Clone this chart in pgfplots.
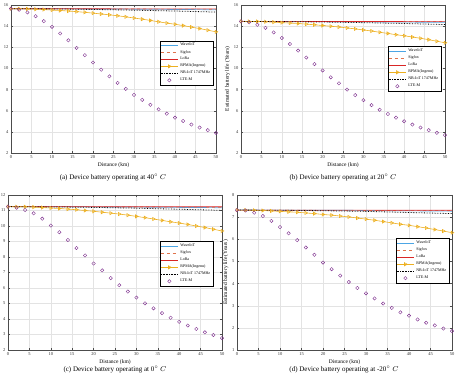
\documentclass[border=0pt]{standalone}
\usepackage{fontspec}
\setmainfont{Liberation Serif}
\usepackage{pgfplots}
\pgfplotsset{compat=1.18}
\definecolor{cwave}{rgb}{0.30,0.65,0.90}
\definecolor{csig}{rgb}{0.88,0.45,0.30}
\definecolor{clora}{rgb}{0.85,0.15,0.15}
\definecolor{crpma}{rgb}{0.93,0.69,0.13}
\definecolor{clte}{rgb}{0.494,0.184,0.556}
\pgfplotsset{
  myax/.style={
    scale only axis, xmin=0, xmax=50, xtick={0,5,...,50},
    grid=major, grid style={gray!22, line width=0.3pt},
    tick align=inside, major tick length=2pt,
    axis line style={gray!60!black, line width=0.4pt},
    tick style={gray!60!black, line width=0.3pt},
    tick label style={font=\fontsize{4.5}{5}\selectfont, text=black!80},
    label style={font=\fontsize{5.5}{6}\selectfont},
    xlabel={Distance (km)}, ylabel={Estimated battery life (Years)},
    xlabel style={yshift=3pt}, ylabel style={yshift=-3pt},
    xticklabel style={yshift=1pt}, yticklabel style={xshift=1pt},
    /pgf/number format/assume math mode=true,
    legend style={font=\fontsize{4}{4.5}\selectfont, draw=black, line width=0.3pt,
      inner sep=0.6pt, row sep=-1.2pt, legend cell align=left},
    legend image post style={},
    every axis plot/.append style={line width=0.6pt},
  },
  wv/.style={cwave, line width=0.7pt},
  sg/.style={csig, dashed, line width=0.6pt},
  lr/.style={clora, line width=0.6pt},
  rp/.style={crpma, line width=0.6pt, mark=triangle, mark size=1.8pt, mark options={rotate=-90, solid}},
  nb/.style={black, densely dotted, line width=0.8pt},
  lt/.style={clte, only marks, mark=o, mark size=1.7pt, line width=0.4pt},
}
\begin{document}
\begin{tikzpicture}
\useasboundingbox (0pt,0pt) rectangle (455pt,-379pt);
% (a)
\begin{axis}[myax, at={(11pt,-5pt)}, anchor=north west, width=205pt, height=148pt,
  ymin=2, ymax=16, ytick={2,4,...,16},
  legend style={at={(0.985,0.76)}, anchor=north east}]
\addplot[wv] coordinates {(0,15.65)(25,15.62)(50,15.55)};
\addplot[sg] coordinates {(0,15.65)(50,15.60)};
\addplot[lr] coordinates {(0,15.65)(50,15.63)};
\addplot[rp] coordinates {(0,15.65)(2,15.64)(4,15.63)(6,15.60)(8,15.57)(10,15.52)(12,15.48)(14,15.43)(16,15.37)(18,15.31)(20,15.23)(22,15.15)(24,15.07)(26,14.98)(28,14.88)(30,14.77)(32,14.66)(34,14.54)(36,14.41)(38,14.29)(40,14.18)(42,14.05)(44,13.91)(46,13.77)(48,13.62)(50,13.46)};
\addplot[nb] coordinates {(0,15.65)(10,15.63)(20,15.58)(30,15.51)(40,15.43)(50,15.33)};
\addplot[lt] coordinates {(0,15.65)(2,15.55)(4,15.3)(6,14.94)(8,14.47)(10,13.94)(12,13.31)(14,12.66)(16,11.94)(18,11.25)(20,10.56)(22,9.88)(24,9.25)(26,8.63)(28,8.06)(30,7.5)(32,7.03)(34,6.56)(36,6.13)(38,5.72)(40,5.34)(42,5.03)(44,4.69)(46,4.41)(48,4.16)(50,3.91)};
\legend{WaveIoT,Sigfox,LoRa,RPMA(Ingenu),NB-IoT 1747MHz,LTE-M}
\end{axis}
% (b)
\begin{axis}[myax, at={(241pt,-5pt)}, anchor=north west, width=204pt, height=148pt,
  ymin=2, ymax=16, ytick={2,4,...,16},
  legend style={at={(0.98,0.72)}, anchor=north east}]
\addplot[wv] coordinates {(0,14.45)(25,14.42)(50,14.36)};
\addplot[sg] coordinates {(0,14.45)(50,14.41)};
\addplot[lr] coordinates {(0,14.45)(50,14.43)};
\addplot[rp] coordinates {(0,14.45)(2,14.44)(4,14.44)(6,14.41)(8,14.38)(10,14.33)(12,14.29)(14,14.25)(16,14.19)(18,14.13)(20,14.06)(22,13.99)(24,13.92)(26,13.83)(28,13.74)(30,13.64)(32,13.54)(34,13.42)(36,13.31)(38,13.19)(40,13.09)(42,12.97)(44,12.85)(46,12.72)(48,12.57)(50,12.43)};
\addplot[nb] coordinates {(0,14.45)(10,14.43)(20,14.39)(30,14.33)(40,14.25)(50,14.15)};
\addplot[lt] coordinates {(0,14.45)(2,14.36)(4,14.13)(6,13.84)(8,13.41)(10,12.88)(12,12.31)(14,11.69)(16,11.03)(18,10.41)(20,9.81)(22,9.16)(24,8.59)(26,8.0)(28,7.47)(30,7.0)(32,6.53)(34,6.09)(36,5.69)(38,5.34)(40,5.0)(42,4.69)(44,4.41)(46,4.16)(48,3.91)(50,3.69)};
\legend{WaveIoT,Sigfox,LoRa,RPMA(Ingenu),NB-IoT 1747MHz,LTE-M}
\end{axis}
% (c)
\begin{axis}[myax, at={(8pt,-195pt)}, anchor=north west, width=214pt, height=155pt,
  ymin=2, ymax=12, ytick={2,3,...,12},
  legend style={at={(0.958,0.70)}, anchor=north east}]
\addplot[wv] coordinates {(0,11.25)(25,11.23)(50,11.18)};
\addplot[sg] coordinates {(0,11.25)(50,11.21)};
\addplot[lr] coordinates {(0,11.25)(50,11.24)};
\addplot[rp] coordinates {(0,11.25)(2,11.24)(4,11.24)(6,11.22)(8,11.19)(10,11.16)(12,11.13)(14,11.09)(16,11.05)(18,11.0)(20,10.95)(22,10.89)(24,10.83)(26,10.77)(28,10.7)(30,10.62)(32,10.54)(34,10.45)(36,10.36)(38,10.27)(40,10.19)(42,10.1)(44,10.0)(46,9.9)(48,9.79)(50,9.68)};
\addplot[nb] coordinates {(0,11.25)(10,11.23)(20,11.2)(30,11.15)(40,11.08)(50,11.01)};
\addplot[lt] coordinates {(0,11.25)(2,11.18)(4,11.03)(6,10.82)(8,10.47)(10,10.03)(12,9.6)(14,9.1)(16,8.58)(18,8.1)(20,7.58)(22,7.14)(24,6.64)(26,6.18)(28,5.77)(30,5.38)(32,5.01)(34,4.69)(36,4.38)(38,4.08)(40,3.82)(42,3.58)(44,3.36)(46,3.14)(48,2.97)(50,2.77)};
\legend{WaveIoT,Sigfox,LoRa,RPMA(Ingenu),NB-IoT 1747MHz,LTE-M}
\end{axis}
% (d)
\begin{axis}[myax, at={(237pt,-195pt)}, anchor=north west, width=215pt, height=155pt,
  ymin=1, ymax=8, ytick={1,2,...,8},
  legend style={at={(0.986,0.72)}, anchor=north east}]
\addplot[wv] coordinates {(0,7.32)(25,7.31)(50,7.27)};
\addplot[sg] coordinates {(0,7.32)(50,7.29)};
\addplot[lr] coordinates {(0,7.32)(50,7.31)};
\addplot[rp] coordinates {(0,7.32)(2,7.32)(4,7.31)(6,7.30)(8,7.28)(10,7.26)(12,7.24)(14,7.22)(16,7.19)(18,7.16)(20,7.12)(22,7.09)(24,7.05)(26,7.01)(28,6.96)(30,6.91)(32,6.86)(34,6.8)(36,6.74)(38,6.68)(40,6.63)(42,6.57)(44,6.51)(46,6.44)(48,6.37)(50,6.30)};
\addplot[nb] coordinates {(0,7.32)(10,7.31)(20,7.29)(30,7.26)(40,7.21)(50,7.16)};
\addplot[lt] coordinates {(0,7.32)(2,7.30)(4,7.2)(6,7.05)(8,6.83)(10,6.55)(12,6.27)(14,5.96)(16,5.63)(18,5.3)(20,4.95)(22,4.65)(24,4.36)(26,4.07)(28,3.8)(30,3.56)(32,3.33)(34,3.1)(36,2.9)(38,2.7)(40,2.55)(42,2.38)(44,2.23)(46,2.11)(48,1.97)(50,1.85)};
\legend{WaveIoT,Sigfox,LoRa,RPMA(Ingenu),NB-IoT 1747MHz,LTE-M}
\end{axis}
\node[font=\fontsize{7}{8}\selectfont] at (113pt,-178pt) {(a) Device battery operating at 40$^\circ$ $C$};
\node[font=\fontsize{7}{8}\selectfont] at (343pt,-178pt) {(b) Device battery operating at 20$^\circ$ $C$};
\node[font=\fontsize{7}{8}\selectfont] at (115pt,-370pt) {(c) Device battery operating at 0$^\circ$ $C$};
\node[font=\fontsize{7}{8}\selectfont] at (344pt,-370pt) {(d) Device battery operating at -20$^\circ$ $C$};
\end{tikzpicture}
\end{document}
